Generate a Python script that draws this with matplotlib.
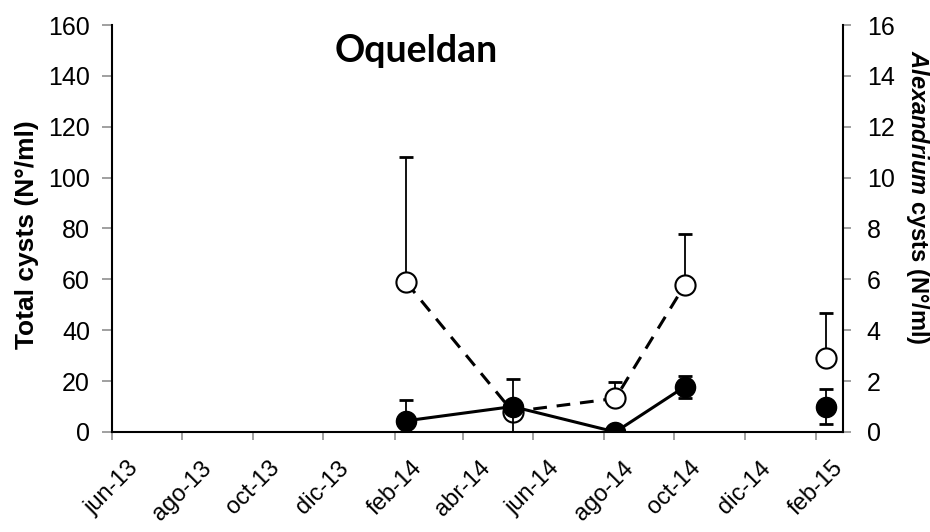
import matplotlib
matplotlib.use("Agg")
import matplotlib.pyplot as plt
import matplotlib.dates as mdates
import matplotlib.transforms as mtransforms
from datetime import date

# ---- data ----
sample_dates = [date(2014, 2, 11), date(2014, 5, 14), date(2014, 8, 11),
                date(2014, 10, 10), date(2015, 2, 9)]
total_cysts = [58.8, 8.0, 13.2, 57.8, 29.0]          # open circles, left axis
total_err_up = [49.5, 3.0, 6.3, 19.9, 17.7]
alex_cysts = [0.44, 1.0, 0.0, 1.78, 1.0]             # filled circles, right axis
alex_err = [0.82, 1.07, 0.0, 0.44, 0.70]

tick_dates = [date(2013, 6, 1), date(2013, 8, 1), date(2013, 10, 1), date(2013, 12, 1),
              date(2014, 2, 1), date(2014, 4, 1), date(2014, 6, 1), date(2014, 8, 1),
              date(2014, 10, 1), date(2014, 12, 1), date(2015, 2, 1)]
tick_labels = ["jun-13", "ago-13", "oct-13", "dic-13", "feb-14", "abr-14",
               "jun-14", "ago-14", "oct-14", "dic-14", "feb-15"]
left_ticks = [0, 20, 40, 60, 80, 100, 120, 140, 160]
right_ticks = [0, 2, 4, 6, 8, 10, 12, 14, 16]

plt.rcParams['font.family'] = ['Liberation Sans', 'DejaVu Sans']
plt.rcParams['mathtext.fontset'] = 'custom'
plt.rcParams['mathtext.it'] = 'Liberation Sans:italic:bold'
plt.rcParams['mathtext.rm'] = 'Liberation Sans:bold'

fig = plt.figure(figsize=(9.3, 5.32), dpi=100)
ax = fig.add_axes([0.12, 0.188, 0.7865, 0.765])
ax2 = ax.twinx()

xd = mdates.date2num(sample_dates)

# open circles (total cysts): dashed line over first four, upper error bars
ax.errorbar(xd, total_cysts, yerr=[[0]*5, total_err_up], fmt='none',
            ecolor='black', elinewidth=1.3, capsize=5, capthick=2, zorder=2)
ax.plot(xd[:4], total_cysts[:4], color='black', lw=2.2, ls=(0, (4.5, 3.2)), zorder=3)
ax.plot(xd, total_cysts, ls='none', marker='o', ms=14.5, mfc='white', mec='black',
        mew=1.5, zorder=4)

# filled circles (Alexandrium cysts): solid line over first four
ax2.errorbar(xd, alex_cysts, yerr=alex_err, fmt='none', ecolor='black',
             elinewidth=1.3, capsize=5, capthick=2, zorder=2)
ax2.plot(xd[:4], alex_cysts[:4], color='black', lw=2.2, zorder=3)
ax2.plot(xd, alex_cysts, ls='none', marker='o', ms=14.5, mfc='black', mec='black',
         zorder=4)

ax.set_xlim(mdates.date2num(date(2013, 6, 1)), mdates.date2num(date(2015, 2, 24)))
ax.set_ylim(0, 160)
ax2.set_ylim(0, 16)
ax.set_xticks(mdates.date2num(tick_dates))
ax.set_xticklabels(tick_labels, rotation=45, fontsize=17)
offset = mtransforms.ScaledTranslation(-6 / 100, 0, fig.dpi_scale_trans)
for lab in ax.get_xticklabels():
    lab.set_transform(lab.get_transform() + offset)
ax.set_yticks(left_ticks)
ax.set_yticklabels([str(v) for v in left_ticks], fontsize=18)
ax2.set_yticks(right_ticks)
ax2.set_yticklabels([str(v) for v in right_ticks], fontsize=18)

for a in (ax, ax2):
    a.spines['top'].set_visible(False)
ax.spines['left'].set_linewidth(1.5)
ax.spines['bottom'].set_linewidth(1.5)
ax.spines['right'].set_visible(False)
ax2.spines['right'].set_linewidth(1.5)
ax2.spines['left'].set_visible(False)
ax2.spines['bottom'].set_visible(False)

ax.tick_params(axis='y', direction='out', length=7, width=1.3, color='#999999', pad=8.5)
ax.tick_params(axis='x', direction='out', length=6, width=1.3, color='#999999', pad=12)
ax2.tick_params(axis='y', direction='out', length=6, width=1.3, color='#999999', pad=11)

fig.text(27 / 930, 1 - 235 / 532, "Total cysts (N°/ml)", rotation=90, fontsize=19,
         fontweight='bold', ha='center', va='center')
fig.text(917 / 930, 1 - 197 / 532, r"$\mathit{Alexandrium}$" + " cysts (N°/ml)",
         rotation=270, fontsize=17, fontweight='bold', ha='center', va='center')

fig.text(416 / 930, 1 - 62 / 532, "Oqueldan", fontsize=27, fontweight='bold',
         family=['Lato', 'DejaVu Sans'], ha='center', va='baseline')

fig.savefig("out.png", dpi=100)
